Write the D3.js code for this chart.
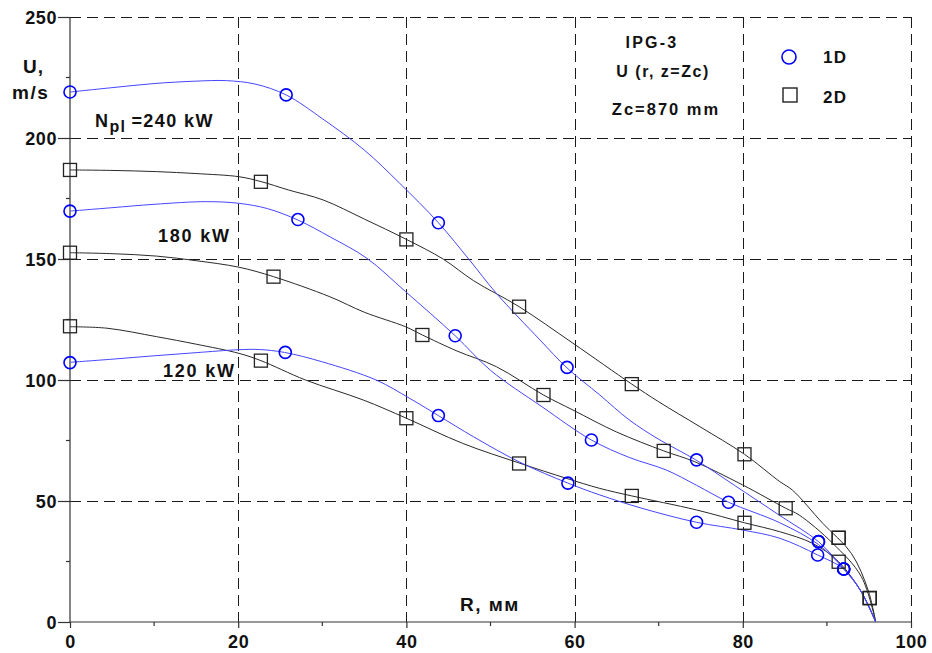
<!DOCTYPE html>
<html>
<head>
<meta charset="utf-8">
<script src="https://cdn.jsdelivr.net/npm/d3@7/dist/d3.min.js"></script>
<style>
  html, body { margin: 0; padding: 0; background: #fff; }
  svg { display: block; }
  text { font-family: "Liberation Sans", Arial, sans-serif; font-weight: bold; fill: #111; }
</style>
</head>
<body>
<svg id="chart" width="932" height="653"></svg>
<script>
// Axis ticks
const xTicks = [0, 20, 40, 60, 80, 100];
const xMinor = [10, 30, 50, 70, 90];
const yTicks = [0, 50, 100, 150, 200, 250];
const yMinor = [25, 75, 125, 175, 225];

// Measured points, 1D model (circles), [R mm, U m/s]
const pts1D_240 = [[0,219],[25.7,217.8],[43.8,165],[59.1,105.2],[74.5,67],[89,33.2],[92,21.9]];
const pts1D_180 = [[0,169.8],[27.1,166.3],[45.8,118.3],[62,75.2],[78.3,49.5],[89,33.2],[92,21.9]];
const pts1D_120 = [[0,107.2],[25.6,111.4],[43.8,85.3],[59.2,57.4],[74.5,41.2],[88.9,27.7],[92,21.9]];

// Measured points, 2D model (squares)
const pts2D_240 = [[0,186.8],[22.7,181.9],[40,158.1],[53.4,130.3],[66.8,98.3],[80.2,69.3],[91.4,34.8],[95.1,9.9]];
const pts2D_180 = [[0,152.6],[24.2,142.7],[41.9,118.6],[56.3,93.8],[70.6,70.7],[85.1,47],[91.4,34.8],[95.1,9.9]];
const pts2D_120 = [[0,122.2],[22.7,108],[40,84.2],[53.4,65.5],[66.8,52.1],[80.2,41],[91.4,24.9],[95.1,9.9]];

// Smoothed profile curves
const fit1D_240 = [[0,219],[5,220.8],[10,222.5],[15,223.5],[18.6,223.7],[22,222.3],[25.7,217.8],[30,208],[35,195],[39.2,181.3],[43.8,165],[47.5,149.6],[50.7,135.8],[55.9,116.5],[59.1,105],[63,93.8],[66.5,83.5],[70,75.5],[74.4,67],[79,56.5],[84.4,44],[89,33.2],[92,22],[94,13],[95.8,0]];
const fit1D_180 = [[0,169.8],[5,171.2],[10,172.6],[16.2,173.7],[20.1,173],[23.5,170.8],[27.1,166.1],[31,159],[35.3,150.3],[39.9,136.5],[45.8,118.3],[50,104],[56.1,89],[62,75.2],[66.5,68],[70.9,62.8],[74.5,56.5],[78.3,49.5],[84.4,41],[89,32],[92,22],[94,13],[95.8,0]];
const fit1D_120 = [[0,107.3],[5,108.6],[10,110],[15,111.3],[20,112.5],[22.5,112.6],[25.5,111.4],[30,107.5],[36.4,100],[40.4,92.4],[43.8,85.3],[48,76.5],[53.5,66],[59.2,57.4],[63,52.5],[68,47],[74.5,41.2],[80,38],[84.4,34.6],[88.9,27.7],[92,21.9],[94,13],[95.8,0]];
const fit2D_240 = [[0,186.8],[5,186.6],[10.3,186.1],[15,185.3],[20.1,184],[22.7,182],[26,178.5],[30.1,174.4],[35,166.5],[40,158.1],[44.4,149.9],[48,141],[53.4,130.3],[59.8,115.2],[66.8,98.3],[70,91],[74.9,80.7],[80.2,69.3],[84.4,58],[85.9,54.5],[89.5,40.8],[92.9,28.4],[94.9,13.2],[95.8,0]];
const fit2D_180 = [[0,152.6],[5,152.2],[10.3,151.2],[15,149.3],[20.1,146.6],[24.2,142.7],[30.9,134.4],[35,128],[39.9,122],[41.9,118.6],[46,112],[50.7,105.5],[56.3,93.8],[59.8,87.6],[65,78.5],[70.6,70.7],[74.3,66.2],[80,56.6],[85.1,47],[86.7,44.2],[90.7,32.5],[94.1,18.7],[95.8,0]];
const fit2D_120 = [[0,122],[4.4,121.4],[10.3,117.9],[15,114.8],[20.1,111],[22.7,108],[28,100],[34.9,91.7],[40,84.2],[46.7,73.8],[53.5,65.6],[59,59.4],[63,55.2],[66.8,52.1],[74.5,46.3],[80.2,41],[84.4,37.3],[88.3,32.5],[91.4,24.9],[94.2,11.8],[95.8,0]];

const curves1D = [fit1D_240, fit1D_180, fit1D_120];
const curves2D = [fit2D_240, fit2D_180, fit2D_120];
const points1D = [pts1D_240, pts1D_180, pts1D_120];
const points2D = [pts2D_240, pts2D_180, pts2D_120];

const svg = d3.select("#chart");
const margin = { left: 70, top: 17, right: 21, bottom: 31 };
const W = 932, H = 653;

const x = d3.scaleLinear().domain([0, 100]).range([margin.left, W - margin.right]);
const y = d3.scaleLinear().domain([0, 250]).range([H - margin.bottom, margin.top]);

// Dashed grid
const grid = svg.append("g").attr("stroke", "#1a1a1a").attr("stroke-width", 1)
  .attr("stroke-dasharray", "11,6").attr("fill", "none");
grid.selectAll("line.v").data(xTicks.filter(d => d > 0)).join("line")
  .attr("x1", d => Math.round(x(d)) + 0.5).attr("x2", d => Math.round(x(d)) + 0.5)
  .attr("y1", y(250)).attr("y2", y(0));
grid.selectAll("line.h").data(yTicks.filter(d => d > 0)).join("line")
  .attr("y1", d => Math.round(y(d)) + 0.5).attr("y2", d => Math.round(y(d)) + 0.5)
  .attr("x1", x(0)).attr("x2", x(100));

// Axes
const yAxis = svg.append("g").attr("transform", `translate(${x(0)},0)`)
  .call(d3.axisLeft(y).tickValues(yTicks).tickSize(12).tickPadding(1).tickFormat(d3.format("d")));
yAxis.append("g").selectAll("line").data(yMinor).join("line")
  .attr("x1", -4).attr("x2", 0).attr("y1", d => y(d)).attr("y2", d => y(d));

const xAxis = svg.append("g").attr("transform", `translate(0,${y(0)})`)
  .call(d3.axisBottom(x).tickValues(xTicks).tickSize(6).tickPadding(7).tickFormat(d3.format("d")));
xAxis.append("g").selectAll("line").data(xMinor).join("line")
  .attr("x1", d => x(d)).attr("x2", d => x(d)).attr("y1", 0).attr("y2", 4);

[yAxis, xAxis].forEach(a => {
  a.select(".domain").attr("stroke", "#333").attr("stroke-width", 1.2);
  a.selectAll("line").attr("stroke", "#333").attr("stroke-width", 1.2);
  a.selectAll("text").attr("font-size", 18).attr("font-family", "Liberation Sans, Arial, sans-serif")
    .attr("font-weight", "bold").attr("fill", "#111").attr("letter-spacing", 0.6);
});
yAxis.select(".domain").attr("d", `M0,${y(0)}V${y(250)}`);
xAxis.select(".domain").attr("d", `M${x(0)},0H${x(100)}`);
yAxis.selectAll(".tick text").attr("dy", "0.35em");

// Profile curves
const line = d3.line().x(d => x(d[0])).y(d => y(d[1])).curve(d3.curveCatmullRom.alpha(0.5));
svg.append("g").selectAll("path").data(curves2D).join("path")
  .attr("d", line).attr("fill", "none").attr("stroke", "#2a2a2a").attr("stroke-width", 1);
svg.append("g").selectAll("path").data(curves1D).join("path")
  .attr("d", line).attr("fill", "none").attr("stroke", "#4646ff").attr("stroke-width", 1);

// Markers
const sq = 13;
svg.append("g").selectAll("rect").data(points2D.flat()).join("rect")
  .attr("x", d => x(d[0]) - sq / 2).attr("y", d => y(d[1]) - sq / 2)
  .attr("width", sq).attr("height", sq)
  .attr("fill", "none").attr("stroke", "#222").attr("stroke-width", 1.3);
svg.append("g").selectAll("circle").data(points1D.flat()).join("circle")
  .attr("cx", d => x(d[0])).attr("cy", d => y(d[1])).attr("r", 6)
  .attr("fill", "none").attr("stroke", "#0000ff").attr("stroke-width", 1.6);

// Labels
const label = (tx, ty, s, size, anchor, color, ls) => svg.append("text")
  .attr("x", tx).attr("y", ty).attr("font-size", size || 17)
  .attr("text-anchor", anchor || "start").attr("letter-spacing", ls === undefined ? 1 : ls)
  .attr("fill", color || "#111").text(s);

label(23, 73, "U,", 19, "start", null, 1);
label(12, 99, "m/s", 19, "start", null, 1.5);

const np = svg.append("text").attr("x", 95).attr("y", 127).attr("font-size", 18).attr("letter-spacing", 1.4);
np.append("tspan").text("N");
np.append("tspan").attr("dy", 5).attr("font-size", 16).text("pl");
np.append("tspan").attr("dy", -5).attr("dx", 5).text("=240 kW");

label(158, 242, "180 kW", 18, "start", null, 1.8);
label(163, 377, "120 kW", 18, "start", null, 1.8);
label(460, 611, "R, мм", 19, "start", null, 1.5);

label(652, 48, "IPG-3", 16, "middle", null, 2.2);
label(663, 77, "U (r, z=Zc)", 16, "middle", null, 1.5);
label(666, 115, "Zc=870 mm", 16.5, "middle", null, 2);

// Legend
svg.append("circle").attr("cx", 789).attr("cy", 57).attr("r", 7)
  .attr("fill", "none").attr("stroke", "#0000ff").attr("stroke-width", 1.6);
label(823, 63, "1D", 17, "start", "#0000ee", 1.2);
svg.append("rect").attr("x", 783).attr("y", 88).attr("width", 14).attr("height", 14)
  .attr("fill", "none").attr("stroke", "#222").attr("stroke-width", 1.4);
label(823, 103, "2D", 17, "start", null, 1.2);
</script>
</body>
</html>
